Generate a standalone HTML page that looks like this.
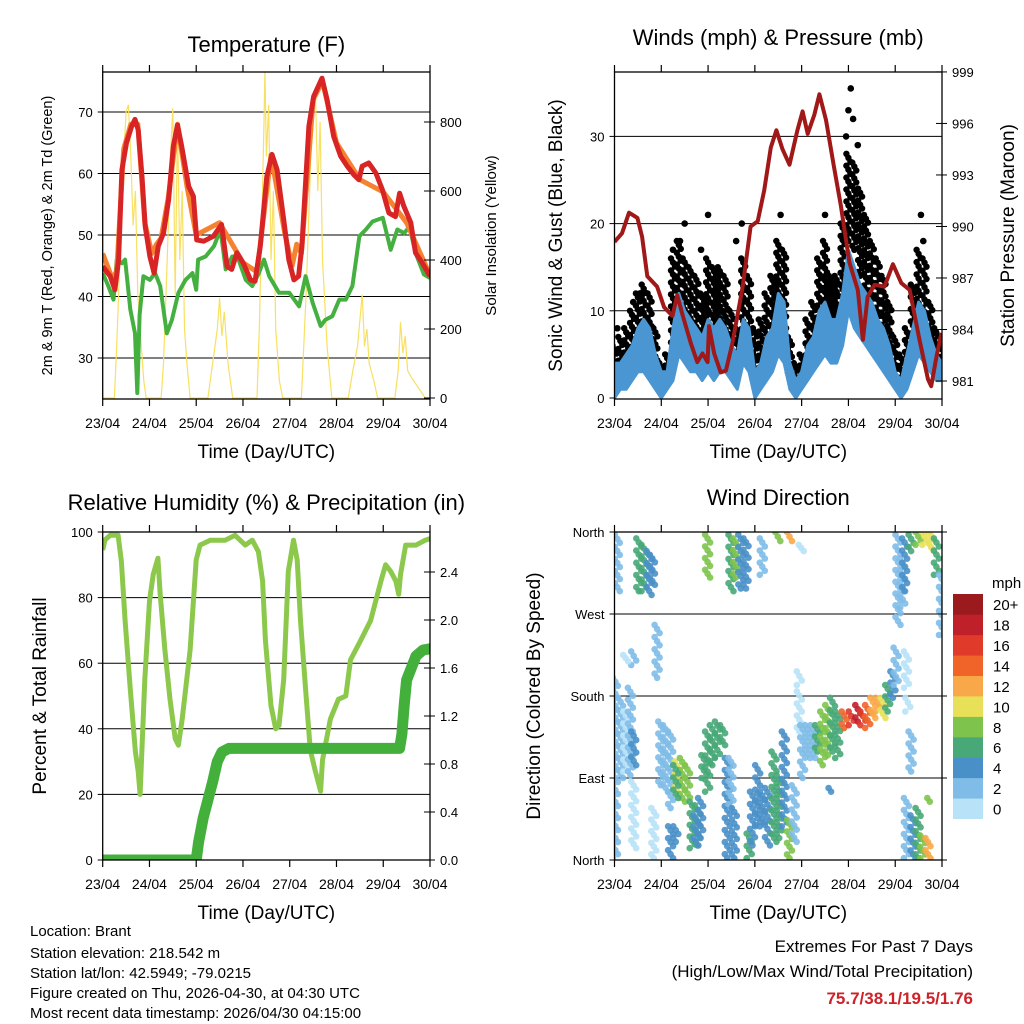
<!DOCTYPE html>
<html><head><meta charset="utf-8"><style>
html,body{margin:0;padding:0;background:#fff;}
svg{display:block;font-family:"Liberation Sans",sans-serif;}
</style></head><body>
<svg id="fig" width="1024" height="1024" viewBox="0 0 1024 1024" xmlns="http://www.w3.org/2000/svg">
<rect x="0" y="0" width="1024" height="1024" fill="#fff"/>
<g id="footer" font-size="15" fill="#000">
<text x="30" y="936">Location: Brant</text>
<text x="30" y="958">Station elevation: 218.542 m</text>
<text x="30" y="978">Station lat/lon: 42.5949; -79.0215</text>
<text x="30" y="998">Figure created on Thu, 2026-04-30, at 04:30 UTC</text>
<text x="30" y="1018">Most recent data timestamp: 2026/04/30 04:15:00</text>
</g>
<g font-size="17" text-anchor="end">
<text x="973" y="952">Extremes For Past 7 Days</text>
<text x="973" y="977">(High/Low/Max Wind/Total Precipitation)</text>
<text x="973" y="1004" fill="#cc2228" font-weight="bold">75.7/38.1/19.5/1.76</text>
</g>
</svg>
<script>
// ---------- data ----------
const dayLabels=["23/04","24/04","25/04","26/04","27/04","28/04","29/04","30/04"];
const tempDays=[0,0.16,0.26,0.34,0.41,0.51,0.62,0.69,0.76,0.84,0.91,1.01,1.1,1.19,1.3,1.41,1.51,1.6,1.69,1.84,1.94,2.01,2.16,2.37,2.54,2.66,2.76,2.87,3.01,3.16,3.26,3.37,3.51,3.62,3.73,3.87,3.98,4.09,4.19,4.26,4.41,4.51,4.69,4.8,4.94,5.09,5.23,5.37,5.48,5.55,5.69,5.84,5.98,6.12,6.26,6.35,6.44,6.59,6.69,6.84,7.0];
const tempRed=[44.9,43.3,41.1,46,60.6,65,67.7,68.8,67.1,59.5,51.4,46.5,43.8,48.2,50.3,55.7,64.4,67.9,64.4,57.9,56.3,49.2,49,49.8,51.7,44.9,44.4,47.1,45.4,42.7,42.5,48.2,59.5,63.1,60.6,52.5,46,42.7,43.3,48.2,67.7,72.5,75.5,72,66,62.8,61.2,59.8,59,61.2,61.7,60.1,57.4,53.6,53,56.8,54.7,52,47.1,45.4,43.3];
const orangeDays=[0,0.1,0.2,0.3,0.45,0.6,0.75,0.9,1.05,1.15,1.25,1.4,1.6,1.8,2.0,2.5,3.0,3.3,3.6,3.9,4.05,4.15,4.25,4.5,4.7,5.0,5.5,6.0,6.5,7.0];
const tempOrange=[47,45,43,44,64,68,68,52,47,48.5,49.5,56,68,58,50,52,45.5,44,63,50,45,48.5,47,72,75,65,59,57,52,43.5];
const tdDays=[0,0.12,0.23,0.3,0.41,0.48,0.59,0.69,0.74,0.79,0.87,1.01,1.12,1.23,1.37,1.48,1.62,1.77,1.92,2.0,2.04,2.2,2.38,2.52,2.63,2.77,2.88,3.06,3.2,3.34,3.45,3.56,3.77,3.99,4.2,4.34,4.49,4.66,4.76,4.91,5.06,5.2,5.34,5.49,5.63,5.77,5.99,6.16,6.3,6.45,6.56,6.69,6.87,7.0];
const tempGreen=[43.8,41.7,39.5,46,45.4,46,37.9,34,24.3,37,43.3,42.7,43.8,41.7,34,36.2,40.6,42.7,43.8,41.1,46,46.5,48.2,50.9,44.4,46.5,46.5,42.7,41.7,43.8,46,43.3,40.6,40.6,38.4,43.3,39,35.2,36.2,36.8,39.5,39.5,41.7,49.8,50.9,52.2,52.8,47.6,50.9,50.3,51.4,47.1,43.6,43];
const solarDays=[0,0.25,0.3,0.38,0.45,0.5,0.55,0.6,0.65,0.7,0.75,0.8,0.88,0.93,1.25,1.3,1.38,1.45,1.5,1.55,1.6,1.65,1.7,1.75,1.8,1.87,2.25,2.35,2.45,2.5,2.55,2.6,2.68,2.78,3.3,3.35,3.4,3.45,3.47,3.5,3.55,3.6,3.65,3.7,3.78,3.85,4.25,4.35,4.45,4.55,4.6,4.65,4.7,4.8,4.9,5.25,5.35,5.45,5.55,5.6,5.65,5.7,5.8,5.88,6.25,6.32,6.37,6.42,6.47,6.52,6.6,6.7,6.8,6.9,7.0];
const solarVals=[0,0,150,450,700,830,850,700,500,600,300,200,50,0,0,100,400,700,840,300,800,400,600,200,100,0,0,100,200,290,180,250,100,0,0,200,500,800,950,700,850,400,600,200,50,0,0,300,700,890,600,800,400,150,0,0,80,150,300,150,200,100,50,0,0,80,220,130,180,80,60,40,20,0,0];
const windDays=[0,0.125,0.25,0.375,0.5,0.625,0.75,0.875,1,1.125,1.25,1.375,1.5,1.625,1.75,1.875,2,2.125,2.25,2.375,2.5,2.625,2.75,2.875,3,3.125,3.25,3.375,3.5,3.625,3.75,3.875,4,4.125,4.25,4.375,4.5,4.625,4.75,4.875,5,5.125,5.25,5.375,5.5,5.625,5.75,5.875,6,6.125,6.25,6.375,6.5,6.625,6.75,6.875,7];
const blueLo=[0,1,1,2,3,3,2,1,0,1,2,5,4,3,3,2,3,2,3,3,2,1,4,3,0,1,2,3,5,4,1,0,1,2,3,4,5,4,4,6,10,8,7,6,5,4,3,2,1,0,1,3,5,4,3,2,2];
const blueHi=[4,4,5,6,8,9,8,5,3,3,8,12,10,9,8,7,9,8,9,8,6,5,9,8,3,4,7,8,12,11,4,2,3,6,7,10,11,9,9,12,17,15,13,12,11,9,8,6,3,2,5,8,11,10,7,5,4];
const gustLo=[1,2,2,4,5,6,4,2,1,2,5,9,7,6,5,4,6,5,6,6,4,3,7,6,2,3,5,6,9,8,2,1,2,4,6,7,9,8,8,12,18,17,14,12,10,8,7,5,2,1,3,6,9,8,5,3,3];
const gustHi=[6,7,8,10,12,13,12,8,4,5,16,18,16,15,14,12,16,15,15,14,10,8,16,14,8,9,12,14,18,17,7,4,5,9,11,16,18,14,14,20,28,27,24,21,18,16,14,11,7,5,8,13,17,16,11,8,6];
const gustOutDays=[0.06,0.55,1.4,1.5,2.0,2.6,2.72,3.55,4.5,4.85,4.95,5.0,5.05,5.1,5.2,6.55,6.6,0.4,1.25,1.85];
const gustOutVals=[8,12,18,20,21,18,20,21,21,20,30,33,35.5,32,29,21,18,11,17,17];
const presDays=[0,0.16,0.31,0.49,0.59,0.7,0.91,1.06,1.24,1.34,1.45,1.63,1.77,1.88,1.99,2.02,2.13,2.27,2.38,2.52,2.74,2.91,3.06,3.2,3.34,3.46,3.59,3.74,3.91,4.02,4.13,4.27,4.38,4.52,4.69,4.84,5.02,5.2,5.31,5.41,5.56,5.77,5.95,6.13,6.31,6.41,6.52,6.7,6.77,6.88,6.99];
const presVals=[989.1,989.6,990.8,990.5,989.4,987.1,986.5,985.3,984.8,986,984.9,983.2,982.1,982.6,982.1,984.2,982.6,981.5,981.6,983.2,986.5,990,990.3,992.1,994.6,995.6,994.5,993.6,995.6,996.7,995.4,996.5,997.7,996.2,993.5,991.2,987.9,986.3,983.4,985.9,986.6,986.5,987.8,986.7,986.3,984.9,983.4,981.1,980.7,982.4,983.8];
const rhDays=[0,0.05,0.16,0.33,0.4,0.48,0.59,0.7,0.76,0.8,0.9,1.0,1.08,1.18,1.23,1.33,1.44,1.55,1.62,1.7,1.87,2.0,2.08,2.3,2.62,2.83,3.05,3.2,3.33,3.42,3.48,3.6,3.7,3.77,3.87,3.97,4.08,4.16,4.23,4.34,4.44,4.55,4.66,4.7,4.87,5.04,5.2,5.3,5.52,5.73,5.95,6.05,6.16,6.27,6.33,6.37,6.48,6.7,6.9,7.0];
const rhVals=[94.5,97.6,99,99,91,73,52,33,27,20,55,79,87,92,81,64,49,37,35,43,64,91.5,96,97.5,97.5,99,96,97.5,94,85,67,47,40,41,55,88,97.5,91.5,73,52,33.5,27,21,30.5,43,49,50,61,67,73,85,90,88,85,81,87,96,96,97.5,98];
const rainDays=[0,2.0,2.05,2.15,2.25,2.35,2.45,2.55,2.7,6.35,6.4,6.45,6.5,6.6,6.7,6.85,7.0];
const rainVals=[0,0,0.15,0.35,0.5,0.65,0.82,0.9,0.93,0.93,1.05,1.3,1.5,1.6,1.7,1.75,1.76];
const dirDay=[0.02,0.13,0.24,0.34,0.41,0.06,0.52,0.63,0.74,0.81,0.41,0.24,0.91,0.99,1.09,1.2,0.84,0.41,1.34,1.45,1.56,1.31,1.66,1.77,1.84,1.74,1.99,2.09,2.2,2.31,1.91,1.2,1.31,1.99,2.41,2.49,2.56,2.49,2.59,2.7,2.81,2.88,2.95,3.06,3.16,3.27,3.41,3.52,3.63,3.74,3.84,3.16,3.49,3.74,3.99,3.95,3.95,4.02,4.13,4.24,4.34,4.45,4.56,4.66,4.77,4.91,5.06,5.2,5.31,5.41,5.52,5.63,5.74,5.84,5.95,6.02,4.63,6.06,6.16,6.2,6.34,6.49,6.63,6.77,6.88,6.99,6.24,6.24,6.34,6.38,6.49,6.59,6.7,6.74,6.27];
const dirHi=[200,178,163,189,141,357,353,346,339,335,229,225,258,152,148,141,57,86,108,112,104,104,64,60,68,49,141,148,152,148,115,37,37,357,112,112,57,357,353,357,353,29,75,104,75,79,119,93,141,44,82,353,360,360,346,207,185,148,148,148,148,163,170,178,163,163,163,170,163,170,178,178,178,192,207,233,79,357,331,353,357,360,360,360,353,313,229,68,141,49,57,27,24,68,178];
const dirLo=[2,90,97,93,104,295,295,295,291,302,214,218,200,82,75,57,2,13,71,68,64,68,13,16,24,16,75,104,112,126,90,2,20,310,2,57,2,295,310,298,298,2,16,37,37,16,20,24,37,2,20,313,350,350,339,192,141,90,112,112,119,104,115,119,112,145,148,152,148,145,156,163,156,163,178,192,75,258,277,295,339,346,346,339,313,247,189,2,97,2,2,2,2,64,163];
const dirSpeed=[2,3,1,3,4,2,7,6,5,4,2,1,2,2,2,2,1,1,10,9,8,7,6,7,4,4,7,6,7,6,6,4,4,8,4,3,4,7,9,4,5,7,4,4,4,4,7,6,5,9,3,2,8,12,1,0,1,2,2,2,6,9,8,7,6,15,16,19,17,15,13,12,10,6,4,3,4,2,3,4,6,8,10,11,7,3,1,2,2,4,6,9,12,9,1];
const speedLabels=["0","2","4","6","8","10","12","14","16","18","20+"];
const speedColors=["#b8e2f8","#80bce8","#4a90c8","#48a878","#7ec44c","#e8e058","#f8a848","#f0642a","#e03a2a","#c0202a","#9a1a1e"];
const tempTicks=[30,40,50,60,70];
const solarTicks=[0,200,400,600,800];
const windTicks=[0,10,20,30];
const presTicks=[981,984,987,990,993,996,999];
const rhTicks=[0,20,40,60,80,100];
const rainTicks=[0,0.4,0.8,1.2,1.6,2.0,2.4];
const dirTicks=[0,90,180,270,360];
const dirNames=["North","East","South","West","North"];

// ---------- helpers ----------
const NS="http://www.w3.org/2000/svg";
const svg=document.getElementById('fig');
function mk(tag,attrs,parent){const e=document.createElementNS(NS,tag);for(const k in attrs)e.setAttribute(k,attrs[k]);(parent||svg).appendChild(e);return e;}
function txt(s,attrs,parent){const e=mk('text',attrs,parent);e.textContent=s;return e;}
function panel(x0,x1,y0,y1){return {x0,x1,y0,y1,xs:d=>x0+d*(x1-x0)/7};}
const P1=panel(102.7,430,72,399),P2=panel(614.5,942,72,399),P3=panel(102.7,430,532,860),P4=panel(614.5,942,532,860);
const yT=v=>112+(70-v)*6.15, yS=v=>398-v*0.345, yW=v=>398-v*8.72, yP=v=>381-(v-981)*17.17;
const yRH=v=>860-v*3.28, yR=v=>860-v*120, yD=v=>860-v*0.9111;

function frame(P,name,title,ty){
  const g=mk('g',{});
  
  
  const t=txt(title,{x:(P.x0+P.x1)/2,y:ty,'text-anchor':'middle','font-size':22},g);
  
  
  const xa=mk('g',{},g);
  
  
  dayLabels.forEach((l,i)=>{
    const x=P.xs(i);
    mk('line',{x1:x,x2:x,y1:P.y1,y2:P.y1+7,stroke:'#000','stroke-width':1.2},xa);
    mk('line',{x1:x,x2:x,y1:P.y0,y2:P.y0-7,stroke:'#000','stroke-width':1.2},xa);
    const tl=txt(l,{x:x,y:P.y1+29,'text-anchor':'middle','font-size':14},xa);
    
    
  });
  const xt=txt('Time (Day/UTC)',{x:(P.x0+P.x1)/2,y:P.y1+59,'text-anchor':'middle','font-size':19},xa);
  
  
  return g;
}
function grid(P,g,ticks,ys){ticks.forEach(v=>{const y=ys(v);if(y>P.y0+1&&y<P.y1-1)mk('line',{x1:P.x0,x2:P.x1,y1:y,y2:y,stroke:'#000','stroke-width':1},g);});}
function leftAxis(P,g,ticks,ys,labels,title,tfs,tx){
  const a=mk('g',{},g);
  
  
  ticks.forEach((v,i)=>{const y=ys(v);mk('line',{x1:P.x0-5,x2:P.x0,y1:y,y2:y,stroke:'#000'},a);
    const l=txt(labels?labels[i]:String(v),{x:P.x0-10,y:y+5,'text-anchor':'end','font-size':13},a);
    
    });
  const cy=(P.y0+P.y1)/2;
  const t=txt(title,{x:tx,y:cy,'text-anchor':'middle','font-size':tfs,transform:`rotate(-90 ${tx} ${cy})`},a);
  
  
}
function rightAxis(P,g,ticks,ys,fmt,title,tfs,tx){
  const a=mk('g',{},g);
  
  
  ticks.forEach(v=>{const y=ys(v);mk('line',{x1:P.x1,x2:P.x1+5,y1:y,y2:y,stroke:'#000'},a);
    mk('line',{x1:P.x1-6,x2:P.x1,y1:y,y2:y,stroke:'#000'},a);
    const l=txt(fmt(v),{x:P.x1+10,y:y+5,'font-size':13},a);
    
    });
  if(title){const cy=(P.y0+P.y1)/2;
  const t=txt(title,{x:tx,y:cy,'text-anchor':'middle','font-size':tfs,transform:`rotate(-90 ${tx} ${cy})`},a);
  
  }
}
function box(P,g){mk('rect',{x:P.x0,y:P.y0,width:P.x1-P.x0,height:P.y1-P.y0,fill:'none',stroke:'#000','stroke-width':1.3},g);}
function clip(P,id){const d=mk('defs',{});const c=mk('clipPath',{id:id},d);mk('rect',{x:P.x0,y:P.y0,width:P.x1-P.x0,height:P.y1-P.y0},c);}
function pts(P,xs,vs,ys){return xs.map((d,i)=>P.xs(d).toFixed(1)+','+ys(vs[i]).toFixed(1)).join(' ');}

// ---------- panel 1: temperature ----------
clip(P1,'c1');
const g1=frame(P1,'temperature-panel','Temperature (F)',52);
grid(P1,g1,tempTicks,yT);
const s1=mk('g',{'clip-path':'url(#c1)'},g1);
const sol=mk('polyline',{points:pts(P1,solarDays,solarVals,yS),fill:'none',stroke:'#f8e060','stroke-width':1.2},s1);


const tg=mk('polyline',{points:pts(P1,tdDays,tempGreen,yT),fill:'none',stroke:'#44b040','stroke-width':4,'stroke-linejoin':'round'},s1);


const to=mk('polyline',{points:pts(P1,orangeDays,tempOrange,yT),fill:'none',stroke:'#f58230','stroke-width':5,'stroke-linejoin':'round'},s1);


const tr=mk('polyline',{points:pts(P1,tempDays,tempRed,yT),fill:'none',stroke:'#d82424','stroke-width':5,'stroke-linejoin':'round'},s1);


box(P1,g1);
leftAxis(P1,g1,tempTicks,yT,null,'2m & 9m T (Red, Orange) & 2m Td (Green)',14.5,52);
rightAxis(P1,g1,solarTicks,yS,v=>String(v),'Solar Insolation (Yellow)',15,496);

// ---------- panel 2: winds ----------
clip(P2,'c2');
const g2=frame(P2,'winds-panel','Winds (mph) & Pressure (mb)',45);
grid(P2,g2,windTicks,yW);
const s2=mk('g',{'clip-path':'url(#c2)'},g2);
windDays.forEach((d,i)=>{
  const x=P2.xs(d),ya=yW(gustHi[i]),yb=yW(gustLo[i]);
  const n=Math.max(1,Math.round((yb-ya)/4));
  for(let k=0;k<=n;k++){
    const c=mk('circle',{cx:(x+((k%3)-1)*2).toFixed(1),cy:(ya+(yb-ya)*k/n).toFixed(1),r:3.2,fill:'#000'},s2);
    
    
  }
});
gustOutDays.forEach((d,i)=>{const c=mk('circle',{cx:P2.xs(d),cy:yW(gustOutVals[i]),r:3.3,fill:'#000'},s2);
  
  });
const bb=mk('polygon',{points:pts(P2,windDays,blueHi,yW)+' '+pts(P2,windDays.slice().reverse(),blueLo.slice().reverse(),yW),fill:'#4a96d2',stroke:'#4a96d2','stroke-width':3,'stroke-linejoin':'round'},s2);


const pr=mk('polyline',{points:pts(P2,presDays,presVals,yP),fill:'none',stroke:'#a01818','stroke-width':4,'stroke-linejoin':'round'},s2);


box(P2,g2);
leftAxis(P2,g2,windTicks,yW,null,'Sonic Wind & Gust (Blue, Black)',19,562);
rightAxis(P2,g2,presTicks,yP,v=>String(v),'Station Pressure (Maroon)',19,1014);

// ---------- panel 3: RH & precip ----------
clip(P3,'c3');
const g3=frame(P3,'humidity-panel','Relative Humidity (%) & Precipitation (in)',510);
grid(P3,g3,rhTicks,yRH);
const s3=mk('g',{'clip-path':'url(#c3)'},g3);
const rh=mk('polyline',{points:pts(P3,rhDays,rhVals,yRH),fill:'none',stroke:'#8cc84c','stroke-width':5,'stroke-linejoin':'round'},s3);


const rn=mk('polyline',{points:pts(P3,rainDays,rainVals,yR),fill:'none',stroke:'#44b03c','stroke-width':11,'stroke-linejoin':'round','stroke-linecap':'round'},s3);


box(P3,g3);
leftAxis(P3,g3,rhTicks,yRH,null,'Percent & Total Rainfall',19,46);
rightAxis(P3,g3,rainTicks,yR,v=>v.toFixed(1),null,0,0);

// ---------- panel 4: wind direction ----------
clip(P4,'c4');
const g4=frame(P4,'wind-direction-panel','Wind Direction',505);
grid(P4,g4,dirTicks,yD);
const s4=mk('g',{'clip-path':'url(#c4)'},g4);
dirDay.forEach((d,i)=>{
  const x=P4.xs(d),ya=yD(dirHi[i]),yb=yD(dirLo[i]);
  const col=speedColors[Math.min(10,Math.floor(dirSpeed[i]/2))];
  const n=Math.max(1,Math.round((yb-ya)/4));
  for(let k=0;k<=n;k++){
    const c=mk('circle',{cx:(x+((k%3)-1)*2.5).toFixed(1),cy:(ya+(yb-ya)*k/n).toFixed(1),r:3.3,fill:col,'fill-opacity':0.9},s4);
    
    
  }
});
box(P4,g4);
leftAxis(P4,g4,dirTicks,yD,dirNames,'Direction (Colored By Speed)',19,540);
rightAxis(P4,g4,dirTicks,yD,v=>'',null,0,0);
const cb=mk('g',{});


const ch=(818.7-594)/speedColors.length;
speedColors.forEach((c,i)=>{
  const y=818.7-(i+1)*ch;
  const r=mk('rect',{x:953,y:y,width:30,height:ch+0.3,fill:c},cb);
  
  
  const l=txt(speedLabels[i],{x:993,y:y+ch/2+6,'font-size':15},cb);
  
  
});
const mph=txt('mph',{x:992,y:588,'font-size':15},cb);


</script>
</body></html>
